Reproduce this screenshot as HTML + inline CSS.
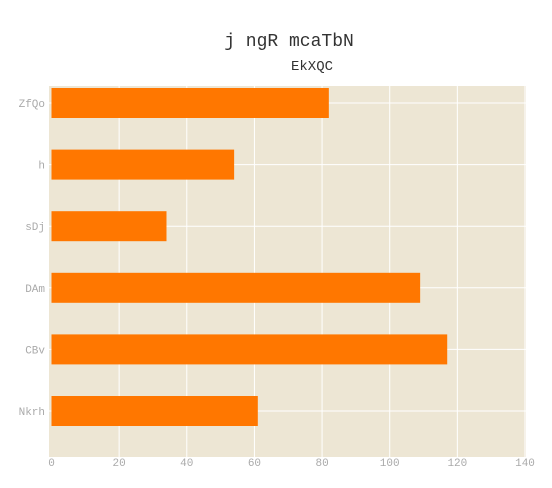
<!DOCTYPE html>
<html><head><meta charset="utf-8"><style>
body{margin:0;background:#fff;}
text{font-family:"Liberation Mono",monospace;}
</style></head><body>
<svg width="552" height="483" id="chart">
<rect x="0" y="0" width="552" height="483" fill="#fff"/>
<text x="289" y="46" font-size="18" text-anchor="middle" fill="#333">j ngR mcaTbN</text>
<text x="312" y="70" font-size="14" text-anchor="middle" fill="#333">EkXQC</text>
<rect x="49" y="86" width="477" height="371" fill="#ede6d4"/>
<g id="grid"></g><g id="bars"></g><g id="xt"></g><g id="yt"></g>
</svg>
<script>
const categories=["ZfQo","h","sDj","DAm","CBv","Nkrh"];
const values=[82,54,34,109,117,61];
const ticks=[0,20,40,60,80,100,120,140];
const NS="http://www.w3.org/2000/svg";
const x=v=>51.5+v*(525-51.5)/140;
const y=i=>103+i*61.6;
function mk(t,a,p){const e=document.createElementNS(NS,t);for(const k in a)e.setAttribute(k,a[k]);document.getElementById(p).appendChild(e);return e;}
ticks.forEach(t=>{
 if(t>0){const g=mk('line',{x1:x(t),x2:x(t),y1:86,y2:457,stroke:'#fff','stroke-width':1},'grid');
 
 }
 const l=mk('text',{x:x(t),y:466,'font-size':11,fill:'#aaa','text-anchor':'middle'},'xt');l.textContent=t;
 
 
});
categories.forEach((c,i)=>{
 const g=mk('line',{x1:49,x2:526,y1:y(i),y2:y(i),stroke:'#fff','stroke-width':1},'grid');
 
 
 const b=mk('rect',{x:x(0),y:y(i)-15,width:x(values[i])-x(0),height:30,fill:'#ff7700'},'bars');
 
 
 const l=mk('text',{x:45,y:y(i)+4,'font-size':11,fill:'#aaa','text-anchor':'end'},'yt');l.textContent=c;
 
 
});
</script>
</body></html>
